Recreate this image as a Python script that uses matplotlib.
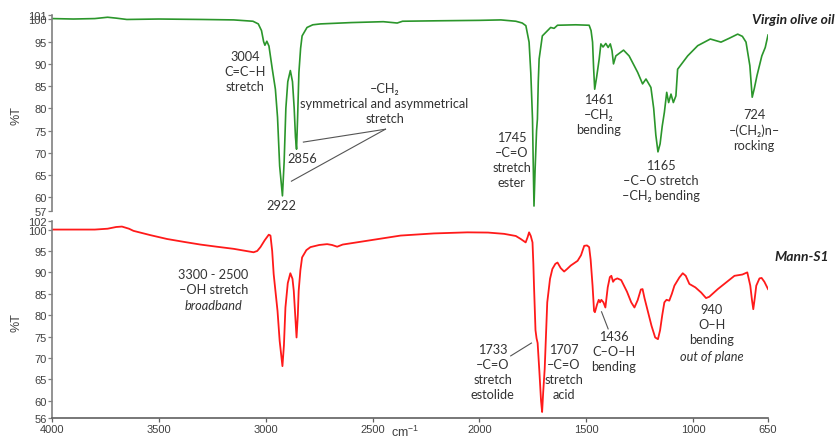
import matplotlib
matplotlib.use("Agg")
import matplotlib.pyplot as plt

# ---------------------------------------------------------------------------
# FTIR spectra (wavenumber in cm-1, transmittance in %T)
# ---------------------------------------------------------------------------

olive_wn = [4000, 3900, 3800, 3740, 3700, 3650, 3500, 3300, 3150, 3060, 3035,
            3020, 3010, 3004, 2995, 2985, 2970, 2955, 2945, 2935, 2922, 2914,
            2906, 2897, 2885, 2875, 2867, 2861, 2856, 2851, 2845, 2837, 2830,
            2807, 2780, 2744, 2600, 2450, 2385, 2360, 2200, 2000, 1900, 1830,
            1800, 1783, 1768, 1760, 1752, 1748, 1745, 1740, 1733, 1729, 1725,
            1721, 1706, 1667, 1651, 1635, 1550, 1487, 1478, 1471, 1466, 1461,
            1452, 1440, 1432, 1422, 1409, 1398, 1388, 1380, 1373, 1362, 1326,
            1300, 1260, 1237, 1221, 1198, 1185, 1175, 1165, 1155, 1145, 1135,
            1124, 1115, 1104, 1093, 1081, 1073, 1026, 979, 920, 870, 830, 792,
            770, 753, 735, 724, 714, 702, 679, 663, 650]
olive_t = [100.2, 100.1, 100.2, 100.5, 100.3, 100.0, 100.1, 100.0, 99.9, 99.6,
           99.0, 97.5, 95.0, 94.2, 95.1, 94.0, 89.0, 84.3, 78.0, 67.0, 60.3,
           68.0, 80.0, 86.0, 88.5, 86.0, 80.0, 73.5, 70.8, 78.0, 88.0, 93.5,
           96.3, 98.2, 98.8, 99.0, 99.3, 99.5, 99.2, 99.6, 99.7, 99.8, 99.9,
           99.6, 99.2, 98.6, 94.9, 88.0, 77.6, 66.0, 58.0, 66.0, 75.0, 77.6,
           86.0, 91.1, 96.3, 98.2, 98.0, 98.7, 98.8, 98.7, 97.5, 94.9, 89.0,
           84.3, 87.0, 91.1, 94.5, 93.8, 94.6, 93.7, 94.5, 93.0, 90.0, 91.8,
           93.1, 91.8, 88.1, 85.5, 86.6, 84.7, 80.0, 74.0, 70.2, 72.0, 76.0,
           79.1, 83.6, 81.3, 83.2, 81.3, 82.8, 88.8, 91.8, 94.1, 95.6, 94.9,
           95.8, 96.7, 96.2, 94.9, 89.6, 82.5, 84.5, 87.3, 91.8, 93.7, 96.5]

mann_wn = [4000, 3900, 3800, 3740, 3700, 3673, 3640, 3619, 3540, 3462, 3380,
           3306, 3230, 3150, 3057, 3040, 3025, 3005, 2986, 2978, 2970, 2963,
           2955, 2945, 2935, 2922, 2915, 2908, 2897, 2885, 2875, 2869, 2862,
           2856, 2850, 2846, 2838, 2830, 2810, 2791, 2750, 2713, 2690, 2666,
           2640, 2525, 2369, 2213, 2057, 1960, 1885, 1830, 1807, 1784, 1775,
           1768, 1760, 1752, 1748, 1745, 1738, 1733, 1728, 1720, 1712, 1707,
           1702, 1695, 1683, 1670, 1659, 1645, 1635, 1620, 1604, 1590, 1573,
           1541, 1525, 1510, 1497, 1487, 1480, 1471, 1464, 1460, 1450, 1442,
           1436, 1430, 1420, 1411, 1400, 1390, 1383, 1375, 1368, 1355, 1337,
           1310, 1290, 1275, 1260, 1245, 1237, 1228, 1213, 1195, 1178, 1165,
           1155, 1145, 1135, 1125, 1112, 1100, 1088, 1065, 1049, 1035, 1018,
           990, 963, 945, 940, 925, 905, 885, 850, 807, 770, 747, 740, 733,
           725, 719, 712, 705, 690, 680, 667, 650]
mann_t = [100.0, 100.0, 100.0, 100.2, 100.6, 100.7, 100.2, 99.7, 98.7, 97.8,
          97.1, 96.5, 96.0, 95.5, 94.7, 95.0, 95.9, 97.5, 98.8, 98.6, 95.0,
          89.6, 85.7, 81.0, 74.0, 68.1, 73.0, 81.8, 87.5, 89.8, 88.5, 85.7,
          80.0, 74.8, 80.0, 85.7, 90.5, 93.5, 95.2, 95.9, 96.4, 96.6, 96.4,
          96.0, 96.5, 97.4, 98.6, 99.1, 99.35, 99.3, 99.0, 98.5, 97.8, 97.0,
          98.2, 99.35, 98.5, 97.0, 92.0, 86.9, 76.5, 74.6, 73.5, 67.0, 60.0,
          57.4, 62.0, 67.4, 83.0, 88.5, 90.8, 92.0, 92.3, 91.0, 90.2, 90.8,
          91.6, 92.7, 94.0, 96.2, 96.3, 95.9, 93.0, 86.9, 81.0, 80.7, 82.5,
          83.6, 83.0, 83.6, 83.0, 81.8, 86.5, 88.9, 89.2, 87.8, 88.3, 88.6,
          88.2, 85.5, 83.0, 81.8, 83.5, 86.0, 86.1, 84.0, 81.0, 77.5, 74.8,
          74.4, 76.5, 80.0, 83.0, 83.6, 83.4, 85.0, 86.9, 88.8, 89.8, 89.2,
          87.3, 86.5, 85.3, 84.3, 84.0, 84.3, 85.2, 86.1, 87.5, 89.2, 89.5,
          90.0, 88.5, 86.9, 83.5, 81.4, 84.0, 86.9, 88.6, 88.7, 87.8, 86.1]

olive_ticks = [57, 60, 65, 70, 75, 80, 85, 90, 95, 100, 101]
mann_ticks = [56, 60, 65, 70, 75, 80, 85, 90, 95, 100, 102]
wn_ticks = [4000, 3500, 3000, 2500, 2000, 1500, 1000, 650]

# peak labels: (text, wavenumber, %T, italic line under the block)
olive_notes = [
    ("3004\nC=C\u2013H\nstretch", 3096, 88.5, None),
    ("\u2013CH\u2082\nsymmetrical and asymmetrical\nstretch", 2444, 81.2, None),
    ("2856", 2830, 68.8, None),
    ("2922", 2927, 58.2, None),
    ("1745\n\u2013C=O\nstretch\nester", 1849, 68.4, None),
    ("1461\n\u2013CH\u2082\nbending", 1441, 78.7, None),
    ("1165\n\u2013C\u2013O stretch\n\u2013CH\u2082 bending", 1151, 63.8, None),
    ("724\n\u2013(CH\u2082)n\u2013\nrocking", 715, 75.3, None),
]
mann_notes = [
    ("3300 - 2500\n\u2013OH stretch", 3245, 87.8, "broadband"),
    ("1733\n\u2013C=O\nstretch\nestolide", 1938, 66.8, None),
    ("1707\n\u2013C=O\nstretch\nacid", 1605, 66.8, None),
    ("1436\nC\u2013O\u2013H\nbending", 1371, 71.7, None),
    ("940\nO\u2013H\nbending", 913, 77.9, "out of plane"),
]

TEXT = ["Lato", "DejaVu Sans"]
TICKS = ["Liberation Sans Narrow", "Liberation Sans", "DejaVu Sans"]
GREY = "#404040"
NOTE_SIZE = 9.2
LINE_PT = 11.3   # line pitch of the note blocks, in points

fig = plt.figure(figsize=(8.38, 4.39), dpi=100)
ax_top = fig.add_axes([0.0621, 0.5182, 0.8544, 0.4453])
ax_bot = fig.add_axes([0.0621, 0.0456, 0.8544, 0.4487])


def style_axis(ax, yticks):
    ax.set_xlim(4000, 650)
    ax.set_ylim(yticks[0], yticks[-1])
    ax.set_yticks(yticks)
    for side in ("top", "right", "bottom"):
        ax.spines[side].set_visible(False)
    ax.spines["left"].set_color("#808080")
    ax.spines["left"].set_linewidth(1.2)
    ax.tick_params(axis="y", length=3, width=0.9, color="#808080", pad=1,
                   labelsize=8, labelcolor=GREY)
    for lab in ax.get_yticklabels():
        lab.set_family(TICKS)
    ax.set_ylabel("%T", family=TICKS, fontsize=9, color=GREY)
    ax.yaxis.set_label_coords(-0.041, 0.49)


def add_notes(ax, notes):
    for txt, x, y, extra in notes:
        ax.text(x, y, txt, ha="center", va="center", fontsize=NOTE_SIZE,
                color="#333333", family=TEXT, linespacing=1.3)
        if extra:
            n = txt.count("\n") + 1
            ax.annotate(extra, xy=(x, y), xycoords="data",
                        xytext=(0, -LINE_PT * (n + 1) / 2),
                        textcoords="offset points", ha="center", va="center",
                        fontsize=NOTE_SIZE, color="#333333", family=TEXT,
                        style="italic")


style_axis(ax_top, olive_ticks)
style_axis(ax_bot, mann_ticks)

ax_top.set_xticks([])
ax_bot.spines["bottom"].set_visible(True)
ax_bot.spines["bottom"].set_color("#606060")
ax_bot.spines["bottom"].set_linewidth(1.2)
ax_bot.set_xticks(wn_ticks)
ax_bot.set_xticklabels([str(t) for t in wn_ticks], family=TICKS)
ax_bot.tick_params(axis="x", length=3, width=0.9, color="#606060", pad=1,
                   labelsize=8, labelcolor=GREY)
ax_bot.set_xlabel("cm$^{\\mathregular{-1}}$", family=TICKS, fontsize=9,
                  color=GREY)
ax_bot.xaxis.set_label_coords(0.493, -0.03)

ax_top.plot(olive_wn, olive_t, color="#2b962b", linewidth=1.2)
ax_bot.plot(mann_wn, mann_t, color="#ff1a1a", linewidth=1.3)

add_notes(ax_top, olive_notes)
add_notes(ax_bot, mann_notes)

# leader lines
ax_top.plot([2440, 2824], [75.3, 72.4], color="#555555", linewidth=0.8)
ax_top.plot([2440, 2880], [75.3, 63.6], color="#555555", linewidth=0.8)
ax_bot.plot([1854, 1757], [70.5, 73.5], color="#555555", linewidth=0.8)
ax_bot.plot([1429, 1398], [80.8, 76.8], color="#555555", linewidth=0.8)

fig.text(752 / 838, 1 - 20 / 439, "Virgin olive oil", fontsize=10,
         weight="bold", style="italic", family=TEXT, color="#222222",
         va="center")
fig.text(774 / 838, 1 - 257 / 439, "Mann-S1", fontsize=10, weight="bold",
         style="italic", family=TEXT, color="#222222", va="center")

fig.savefig("out.png", dpi=100)
